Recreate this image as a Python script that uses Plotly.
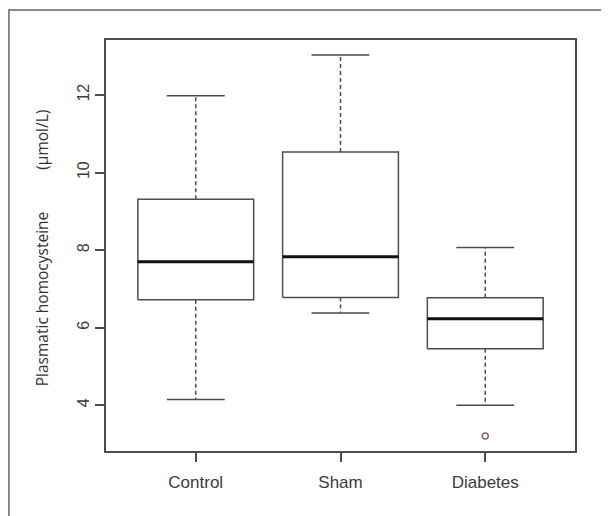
import plotly.graph_objects as go

# ---- data ----
categories = ["Control", "Sham", "Diabetes"]
lower_whisker = [4.15, 6.38, 4.00]
q1 = [6.72, 6.78, 5.46]
median = [7.70, 7.83, 6.23]
q3 = [9.31, 10.53, 6.77]
upper_whisker = [11.98, 13.03, 8.07]
outlier_group = ["Diabetes"]
outlier_value = [3.21]
y_ticks = [4, 6, 8, 10, 12]

positions = list(range(1, len(categories) + 1))
pos_of = dict(zip(categories, positions))
half_box = 0.4
half_cap = 0.2

line_col = "#4d4d4d"

box_x, box_y = [], []
med_x, med_y = [], []
wh_x, wh_y = [], []
cap_x, cap_y = [], []
for p, lo, a, m, b, hi in zip(positions, lower_whisker, q1, median, q3, upper_whisker):
    box_x += [p - half_box, p + half_box, p + half_box, p - half_box, p - half_box, None]
    box_y += [a, a, b, b, a, None]
    med_x += [p - half_box, p + half_box, None]
    med_y += [m, m, None]
    wh_x += [p, p, None, p, p, None]
    wh_y += [b, hi, None, a, lo, None]
    cap_x += [p - half_cap, p + half_cap, None, p - half_cap, p + half_cap, None]
    cap_y += [hi, hi, None, lo, lo, None]

fig = go.Figure()
fig.add_trace(go.Scatter(x=wh_x, y=wh_y, mode="lines",
                         line=dict(color=line_col, width=1.5, dash="4px,3px"),
                         hoverinfo="skip", showlegend=False))
fig.add_trace(go.Scatter(x=cap_x, y=cap_y, mode="lines",
                         line=dict(color=line_col, width=1.5),
                         hoverinfo="skip", showlegend=False))
fig.add_trace(go.Scatter(x=box_x, y=box_y, mode="lines",
                         line=dict(color=line_col, width=1.5),
                         hoverinfo="skip", showlegend=False))
fig.add_trace(go.Scatter(x=med_x, y=med_y, mode="lines",
                         line=dict(color="#111111", width=3),
                         hoverinfo="skip", showlegend=False))
fig.add_trace(go.Scatter(x=[pos_of[g] for g in outlier_group], y=outlier_value,
                         mode="markers",
                         marker=dict(symbol="circle-open", size=6,
                                     color="#9a5c5c", line=dict(width=1.5)),
                         showlegend=False))

x_tick_font = dict(family="Liberation Sans, Arial, sans-serif", size=17, color="#3c3c3c")
y_tick_font = dict(family="Liberation Sans, Arial, sans-serif", size=16, color="#3c3c3c")

fig.update_layout(
    width=601, height=508,
    margin=dict(l=98, r=34, t=32, b=65),
    paper_bgcolor="white", plot_bgcolor="white",
    xaxis=dict(range=[0.38, 3.62], tickmode="array", tickvals=positions,
               ticktext=categories, showgrid=False, zeroline=False,
               showline=True, mirror=True, linecolor=line_col, linewidth=1.5,
               ticks="outside", ticklen=9, tickwidth=1.5, tickcolor=line_col,
               tickfont=x_tick_font, ticklabelstandoff=6),
    yaxis=dict(range=[2.82, 13.42], tickmode="array", tickvals=y_ticks,
               showgrid=False, zeroline=False,
               showline=True, mirror=True, linecolor=line_col, linewidth=1.5,
               ticks="outside", ticklen=9, tickwidth=1.5, tickcolor=line_col,
               tickfont=y_tick_font, tickangle=-90),
    shapes=[dict(type="rect", xref="paper", yref="paper",
                 x0=-0.207, x1=1.3, y0=-0.3, y1=1.073,
                 line=dict(color="#666666", width=1.5), layer="below")],
    annotations=[
        dict(text="Plasmatic homocysteine", textangle=-90, xref="paper", yref="paper",
             x=-0.137, y=(451 - 298.5) / 411, xanchor="center", yanchor="middle",
             showarrow=False,
             font=dict(family="Open Sans, Noto Sans, sans-serif", size=15.5, color="#333333")),
        dict(text="(μmol/L)", textangle=-90, xref="paper", yref="paper",
             x=-0.137, y=(451 - 140) / 411, xanchor="center", yanchor="middle",
             showarrow=False,
             font=dict(family="Open Sans, Noto Sans, sans-serif", size=15.5, color="#333333")),
    ],
)

fig.write_html("out.html")
